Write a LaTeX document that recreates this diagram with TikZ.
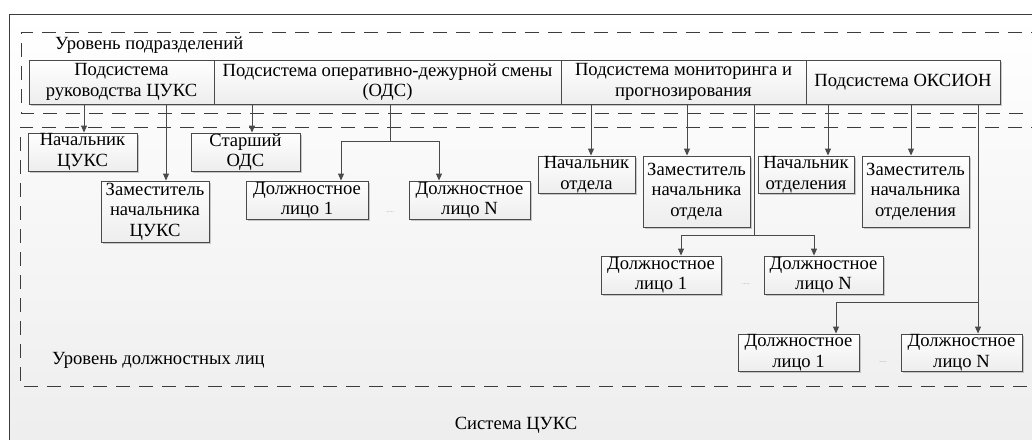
\documentclass[tikz,border=0pt]{standalone}
\usepackage{fontspec}
\setmainfont{Liberation Serif}
\usetikzlibrary{arrows.meta,shadows}
\definecolor{edge}{HTML}{4A4A4A}
\definecolor{frame}{HTML}{3C3C3C}
\begin{document}
\begin{tikzpicture}[x=1pt,y=-1pt,
  unit/.style={draw=edge,line width=0.9pt,top color=white,bottom color=black!7,
    drop shadow={shadow xshift=1.6pt,shadow yshift=-1.6pt,fill=black!35,opacity=0.6},
    align=center,inner sep=0pt,font=\fontsize{18.6}{20.5}\selectfont},
  link/.style={draw=edge,line width=0.9pt},
  arr/.style={link,-{Triangle[length=7pt,width=6pt]}},
  zone/.style={draw=frame,line width=0.9pt,dash pattern=on 14pt off 9pt},
  lbl/.style={font=\fontsize{18.6}{20.5}\selectfont,inner sep=0pt},
  gap/.style={font=\fontsize{6}{6}\selectfont,text=black!45,inner sep=0pt}]
\useasboundingbox (0,0) rectangle (1032,439);
\begin{scope}
\clip (0,0) rectangle (1032,439);
% outer system frame
\fill[white] (0,0) rectangle (1032,439);
\shade[top color=white,bottom color=black!7] (9,14) rectangle (1045,455);
\draw[frame,line width=1pt] (1045,14) -- (9,14) -- (9,455);
% level zones
\draw[zone] (1045,32) -- (21,32) -- (21,113) -- (1045,113);
\draw[zone] (1045,127) -- (20,127) -- (20,386) -- (1045,386);
\end{scope}

\node[lbl,anchor=west] (lvlA) at (55,45) {Уровень подразделений};
\node[lbl,anchor=west] (lvlB) at (52,360) {Уровень должностных лиц};
\node[lbl] (sys) at (516,425) {Система ЦУКС};

% subsystems
\node[unit,minimum width=185pt,minimum height=44pt] (s1) at (121.5,82) {Подсистема\\руководства ЦУКС};
\node[unit,minimum width=347pt,minimum height=44pt] (s2) at (387.5,82) {Подсистема оперативно-дежурной смены\\(ОДС)};
\node[unit,minimum width=245pt,minimum height=44pt] (s3) at (683.5,82) {Подсистема мониторинга и\\прогнозирования};
\node[unit,minimum width=194pt,minimum height=44pt] (s4) at (903,82) {Подсистема ОКСИОН};

% officials
\node[unit,minimum width=109pt,minimum height=38pt] (nc) at (82.5,152) {Начальник\\ЦУКС};
\node[unit,minimum width=108pt,minimum height=61pt] (zc) at (155,211.5) {Заместитель\\начальника\\ЦУКС};
\node[unit,minimum width=109pt,minimum height=38pt] (so) at (245.5,152) {Старший\\ОДС};
\node[unit,minimum width=122pt,minimum height=38pt] (d11) at (307,200) {Должностное\\лицо 1};
\node[unit,minimum width=121pt,minimum height=38pt] (d1n) at (469.5,200) {Должностное\\лицо N};
\node[unit,minimum width=97pt,minimum height=37pt] (no) at (586.5,174.5) {Начальник\\отдела};
\node[unit,minimum width=107pt,minimum height=71pt] (zo) at (696.5,191.5) {Заместитель\\начальника\\отдела};
\node[unit,minimum width=96pt,minimum height=37pt] (nd) at (806,174.5) {Начальник\\отделения};
\node[unit,minimum width=107pt,minimum height=71pt] (zd) at (915.5,191.5) {Заместитель\\начальника\\отделения};
\node[unit,minimum width=120pt,minimum height=38pt] (d21) at (661,275) {Должностное\\лицо 1};
\node[unit,minimum width=119pt,minimum height=38pt] (d2n) at (823.5,275) {Должностное\\лицо N};
\node[unit,minimum width=121pt,minimum height=37pt] (d31) at (798.5,352.5) {Должностное\\лицо 1};
\node[unit,minimum width=121pt,minimum height=37pt] (d3n) at (961.5,352.5) {Должностное\\лицо N};

\node[gap] (g1) at (390,212) {.....};
\node[gap] (g2) at (746,284) {.....};
\node[gap] (g3) at (883,362) {.....};

% branch points
\coordinate (b1) at (390,141);
\coordinate (b2) at (754,235);
\coordinate (b3) at (978,302);

% connectors
\draw[arr] ([xshift=1.5pt]nc.north |- s1.south) -- ([xshift=1.5pt]nc.north);
\draw[arr] ([xshift=11pt]zc.north |- s1.south) -- ([xshift=11pt]zc.north);
\draw[arr] ([xshift=6.5pt]so.north |- s2.south) -- ([xshift=6.5pt]so.north);
\draw[link] (b1 |- s2.south) -- (b1);
\draw[arr] (b1) -| ([xshift=34pt]d11.north);
\draw[arr] (b1) -| ([xshift=-30.5pt]d1n.north);
\draw[arr] ([xshift=4.5pt]no.north |- s3.south) -- ([xshift=4.5pt]no.north);
\draw[arr] ([xshift=-9.5pt]zo.north |- s3.south) -- ([xshift=-9.5pt]zo.north);
\draw[link] (b2 |- s3.south) -- (b2);
\draw[arr] (b2) -| ([xshift=20pt]d21.north);
\draw[arr] (b2) -| ([xshift=-9.5pt]d2n.north);
\draw[arr] ([xshift=22pt]nd.north |- s4.south) -- ([xshift=22pt]nd.north);
\draw[arr] ([xshift=-4.5pt]zd.north |- s4.south) -- ([xshift=-4.5pt]zd.north);
\draw[link] (b3 |- s4.south) -- (b3);
\draw[arr] (b3) -| ([xshift=37.5pt]d31.north);
\draw[arr] (b3) -- ([xshift=16.5pt]d3n.north);
\end{tikzpicture}
\end{document}
